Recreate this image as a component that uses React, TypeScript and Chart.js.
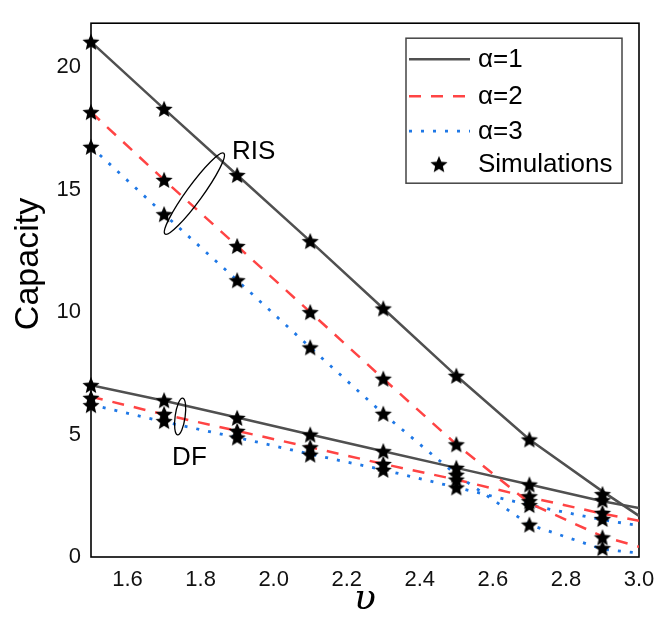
import React, { useEffect, useRef } from 'react';
import { Chart, registerables } from 'chart.js';

Chart.register(...registerables);

// ---------- data ----------
const xTheory = [1.5, 1.7, 1.9, 2.1, 2.3, 2.5, 2.7, 2.9, 3.0];
const theoRIS1 = [21.04, 18.3, 15.6, 12.9, 10.15, 7.4, 4.8, 2.68, 1.68];
const theoRIS2 = [18.17, 15.4, 12.7, 10.0, 7.28, 4.6, 2.2, 0.84, 0.42];
const theoRIS3 = [16.75, 14.0, 11.3, 8.56, 5.85, 3.36, 1.32, 0.32, 0.16];
const theoDF1 = [7.02, 6.38, 5.7, 5.0, 4.32, 3.64, 2.96, 2.28, 2.0];
const theoDF2 = [6.55, 5.82, 5.15, 4.48, 3.8, 3.16, 2.44, 1.77, 1.48];
const theoDF3 = [6.22, 5.52, 4.88, 4.2, 3.56, 2.84, 2.12, 1.52, 1.28];

const xSim = [1.5, 1.7, 1.9, 2.1, 2.3, 2.5, 2.7, 2.9];
const simRIS1 = [21.04, 18.3, 15.6, 12.9, 10.15, 7.4, 4.8, 2.57];
const simRIS2 = [18.17, 15.4, 12.7, 10.0, 7.28, 4.6, 2.28, 0.8];
const simRIS3 = [16.75, 14.0, 11.3, 8.56, 5.85, 3.36, 1.32, 0.36];
const simDF1 = [7.02, 6.4, 5.68, 5.0, 4.32, 3.64, 2.96, 2.32];
const simDF2 = [6.5, 5.84, 5.15, 4.48, 3.8, 3.16, 2.48, 1.8];
const simDF3 = [6.2, 5.55, 4.88, 4.18, 3.56, 2.84, 2.12, 1.55];

const xTicks = [1.6, 1.8, 2.0, 2.2, 2.4, 2.6, 2.8, 3.0];
const yTicks = [0, 5, 10, 15, 20];
const legendLabels = ['α=1', 'α=2', 'α=3', 'Simulations'];

// ---------- styles ----------
const FONT = '"Liberation Sans", Arial, Helvetica, sans-serif';
const GRAY = '#505050';
const RED = '#ff4444';
const BLUE = '#1f78e6';
const STYLES = [
  { color: GRAY, dash: [] as number[], width: 2.5, cap: 'butt' },
  { color: RED, dash: [12, 10], width: 2.5, cap: 'butt' },
  { color: BLUE, dash: [3, 9], width: 2.8, cap: 'butt' },
];

function makeStar(r: number) {
  const size = Math.ceil(r * 2 + 2);
  const c = document.createElement('canvas');
  c.width = size;
  c.height = size;
  const ctx = c.getContext('2d')!;
  ctx.fillStyle = '#000';
  ctx.beginPath();
  const cx = size / 2;
  const cy = size / 2 + r * 0.08;
  for (let i = 0; i < 10; i++) {
    const rad = i % 2 === 0 ? r : r * 0.45;
    const a = -Math.PI / 2 + (i * Math.PI) / 5;
    const px = cx + rad * Math.cos(a);
    const py = cy + rad * Math.sin(a);
    if (i === 0) ctx.moveTo(px, py);
    else ctx.lineTo(px, py);
  }
  ctx.closePath();
  ctx.fill();
  return c;
}

const pts = (xs: number[], ys: number[]) => xs.map((x, i) => ({ x, y: ys[i] }));

function makeDecorPlugin(star: HTMLCanvasElement) {
  return {
    id: 'decor',
    beforeDatasetsDraw(chart: any) {
      const { ctx, chartArea: a } = chart;
      ctx.save();
      ctx.strokeStyle = '#000';
      ctx.lineWidth = 1.6;
      ctx.strokeRect(a.left, a.top, a.right - a.left, a.bottom - a.top);
      ctx.restore();
    },
    afterDatasetsDraw(chart: any) {
      const { ctx, chartArea: a, scales } = chart;
      const xs = scales.x;
      const ys = scales.y;
      ctx.save();
      // annotations: ellipses
      ctx.strokeStyle = '#000';
      ctx.lineWidth = 1.3;
      ctx.beginPath();
      ctx.ellipse(xs.getPixelForValue(1.783), ys.getPixelForValue(14.84), 50, 8, (-54 * Math.PI) / 180, 0, Math.PI * 2);
      ctx.stroke();
      ctx.beginPath();
      ctx.ellipse(xs.getPixelForValue(1.744), ys.getPixelForValue(5.74), 5, 18.5, (8 * Math.PI) / 180, 0, Math.PI * 2);
      ctx.stroke();
      ctx.fillStyle = '#000';
      ctx.font = `26px ${FONT}`;
      ctx.textBaseline = 'middle';
      ctx.textAlign = 'left';
      ctx.fillText('RIS', xs.getPixelForValue(1.886), ys.getPixelForValue(16.56));
      ctx.fillText('DF', xs.getPixelForValue(1.722), ys.getPixelForValue(4.04));

      // legend
      const bx = a.right - 233;
      const by = a.top + 15;
      const bw = 216;
      const bh = 145;
      ctx.fillStyle = '#fff';
      ctx.fillRect(bx, by, bw, bh);
      ctx.strokeStyle = '#444';
      ctx.lineWidth = 1.5;
      ctx.strokeRect(bx, by, bw, bh);
      const rowY = [21, 58, 93, 126];
      ctx.font = `26px ${FONT}`;
      ctx.textBaseline = 'middle';
      for (let i = 0; i < 3; i++) {
        const s = STYLES[i];
        ctx.strokeStyle = s.color;
        ctx.lineWidth = s.width;
        ctx.setLineDash(s.dash);
        ctx.beginPath();
        ctx.moveTo(bx + 3, by + rowY[i]);
        ctx.lineTo(bx + 64, by + rowY[i]);
        ctx.stroke();
      }
      ctx.setLineDash([]);
      ctx.drawImage(star, bx + 33 - star.width / 2, by + rowY[3] - star.height / 2);
      ctx.fillStyle = '#000';
      legendLabels.forEach((t, i) => ctx.fillText(t, bx + 72, by + rowY[i] + 1));

      // axis titles
      ctx.save();
      ctx.translate(29, 264);
      ctx.rotate(-Math.PI / 2);
      ctx.textAlign = 'center';
      ctx.font = `34px ${FONT}`;
      ctx.fillText('Capacity', 0, 0);
      ctx.restore();
      ctx.textAlign = 'center';
      ctx.font = `italic 36px "DejaVu Serif", serif`;
      ctx.fillText('υ', (a.left + a.right) / 2, 600);
      ctx.restore();
    },
  };
}

export default function App() {
  const ref = useRef<HTMLCanvasElement>(null);
  useEffect(() => {
    const star = makeStar(9);
    const lineDs = (label: string, ys: number[], s: any) => ({
      type: 'scatter',
      label,
      order: 1,
      data: pts(xTheory, ys),
      showLine: true,
      borderColor: s.color,
      borderWidth: s.width,
      borderDash: s.dash,
      borderCapStyle: s.cap,
      pointRadius: 0,
      pointHoverRadius: 0,
      fill: false,
      tension: 0,
    });
    const simPoints = [
      ...pts(xSim, simRIS1),
      ...pts(xSim, simRIS2),
      ...pts(xSim, simRIS3),
      ...pts(xSim, simDF1),
      ...pts(xSim, simDF2),
      ...pts(xSim, simDF3),
    ];
    const chart: any = new Chart(ref.current!, {
      type: 'scatter',
      data: {
        datasets: [
          lineDs('RIS α=1', theoRIS1, STYLES[0]),
          lineDs('RIS α=2', theoRIS2, STYLES[1]),
          lineDs('RIS α=3', theoRIS3, STYLES[2]),
          lineDs('DF α=1', theoDF1, STYLES[0]),
          lineDs('DF α=2', theoDF2, STYLES[1]),
          lineDs('DF α=3', theoDF3, STYLES[2]),
          {
            type: 'scatter',
            label: 'Simulations',
            order: 0,
            data: simPoints,
            pointStyle: star,
            pointRadius: 9,
            showLine: false,
            clip: false,
          } as any,
        ] as any,
      },
      options: {
        animation: false,
        responsive: false,
        maintainAspectRatio: false,
        events: [],
        layout: { padding: { top: 12, right: 28, left: 0, bottom: 0 } },
        plugins: {
          legend: { display: false },
          tooltip: { enabled: false },
        },
        scales: {
          x: {
            type: 'linear',
            min: 1.5,
            max: 3.0,
            grid: { display: false, drawTicks: false },
            border: { display: false },
            afterBuildTicks: (s: any) => {
              s.ticks = xTicks.map((v) => ({ value: v }));
            },
            afterFit: (s: any) => {
              s.height = 68;
            },
            ticks: {
              padding: 10,
              color: '#111',
              font: { family: FONT, size: 22 },
              maxRotation: 0,
              autoSkip: false,
              callback: (v: any) => Number(v).toFixed(1),
            },
          },
          y: {
            type: 'linear',
            min: 0,
            max: 21.8,
            grid: { display: false, drawTicks: false },
            border: { display: false },
            afterBuildTicks: (s: any) => {
              s.ticks = yTicks.map((v) => ({ value: v }));
            },
            afterFit: (s: any) => {
              s.width = 91;
            },
            ticks: {
              padding: 10,
              color: '#111',
              font: { family: FONT, size: 22 },
              autoSkip: false,
              callback: (v: any) => String(v),
            },
          },
        },
      },
      plugins: [makeDecorPlugin(star)],
    } as any);
    return () => chart.destroy();
  }, []);
  return (
    <div style={{ position: 'fixed', left: 0, top: 0, width: 667, height: 625, background: '#fff' }}>
      <canvas ref={ref} width={667} height={625} style={{ width: 667, height: 625 }} />
    </div>
  );
}
